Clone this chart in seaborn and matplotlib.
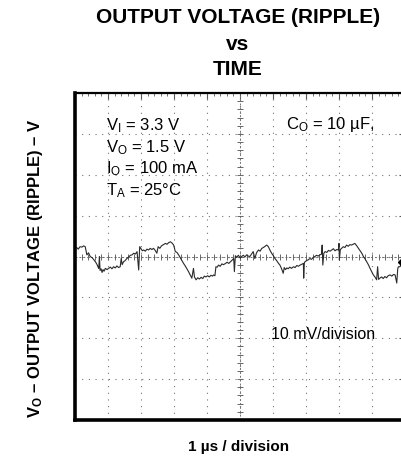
import numpy as np
import pandas as pd
import matplotlib
matplotlib.use("Agg")
import matplotlib.pyplot as plt
import seaborn as sb

# --- scope trace (time in us, ripple in mV) ---
time_us = [
    0.00, 0.05, 0.10, 0.15, 0.21, 0.26, 0.31, 0.36, 0.41, 0.46, 0.52, 0.57,
    0.62, 0.67, 0.70, 0.72, 0.74, 0.76, 0.79, 0.82, 0.85, 0.88, 0.92, 0.97,
    1.02, 1.07, 1.12, 1.17, 1.22, 1.27, 1.32, 1.37, 1.40, 1.43, 1.47, 1.52,
    1.57, 1.63, 1.68, 1.73, 1.78, 1.83, 1.88, 1.93, 1.96, 2.00, 2.04, 2.08,
    2.13, 2.18, 2.23, 2.28, 2.33, 2.38, 2.43, 2.48, 2.52, 2.57, 2.62, 2.68,
    2.74, 2.79, 2.84, 2.89, 2.94, 2.99, 3.04, 3.09, 3.14, 3.19, 3.24, 3.29,
    3.34, 3.39, 3.44, 3.49, 3.54, 3.59, 3.62, 3.67, 3.72, 3.77, 3.82, 3.87,
    3.92, 3.97, 4.02, 4.07, 4.12, 4.17, 4.20, 4.24, 4.27, 4.31, 4.35, 4.40,
    4.45, 4.50, 4.56, 4.61, 4.66, 4.71, 4.76, 4.81, 4.83, 4.86, 4.90, 4.95,
    5.01, 5.05, 5.10, 5.15, 5.20, 5.25, 5.30, 5.35, 5.40, 5.45, 5.50, 5.56,
    5.61, 5.66, 5.71, 5.76, 5.81, 5.86, 5.91, 5.96, 6.01, 6.06, 6.11, 6.16,
    6.21, 6.26, 6.31, 6.34, 6.38, 6.42, 6.46, 6.51, 6.56, 6.62, 6.67, 6.72,
    6.77, 6.82, 6.87, 6.92, 6.93, 6.95, 6.97, 7.02, 7.07, 7.12, 7.17, 7.22,
    7.27, 7.32, 7.37, 7.42, 7.47, 7.49, 7.51, 7.54, 7.58, 7.63, 7.68, 7.73,
    7.78, 7.83, 7.88, 7.93, 7.98, 8.00, 8.01, 8.04, 8.08, 8.13, 8.18, 8.23,
    8.28, 8.33, 8.38, 8.43, 8.48, 8.53, 8.59, 8.64, 8.69, 8.74, 8.79, 8.84,
    8.89, 8.94, 8.99, 9.04, 9.09, 9.14, 9.17, 9.20, 9.24, 9.29, 9.34, 9.39,
    9.44, 9.49, 9.55, 9.60, 9.65, 9.70, 9.75, 9.78, 9.80, 9.85, 9.90,
]
ripple_mv = [
    1.9, 2.2, 1.8, 2.4, 2.3, 2.6, 2.4, 0.4, 0.9, 0.0, -0.3, -0.8,
    -1.3, -2.0, -2.6, -2.9, 0.0, -3.4, -3.0, -3.9, -3.2, -3.6, -2.9, -3.2,
    -2.9, -2.6, -3.0, -2.5, -2.8, -2.3, -2.7, -2.5, -0.5, -2.0, -1.3, -1.0,
    -0.5, -0.1, 0.3, 0.4, 0.8, 0.6, 1.2, -3.3, 2.4, 1.9, 1.4, 1.6,
    1.3, 1.8, 1.6, 2.0, 1.7, 2.0, 1.5, 0.8, 2.4, 2.0, 2.6, 2.9,
    3.2, 3.0, 3.4, 3.6, 3.3, 2.8, 1.2, 1.0, 0.4, -0.3, -1.0, -1.7,
    -2.3, -3.0, -3.7, -4.5, -5.3, -2.9, -5.0, -5.7, -5.2, -5.5, -5.1, -5.4,
    -4.8, -5.0, -4.7, -5.0, -4.6, -4.8, -4.5, -4.7, -2.5, -2.6, -2.1, -2.4,
    -1.8, -2.0, -1.7, -1.4, -1.7, -1.3, -0.9, -0.5, -3.7, 0.2, -0.2, 0.3,
    -0.4, 0.0, 0.3, -0.1, 0.4, 0.1, 0.0, 0.6, 1.2, -0.5, 0.9, 1.6,
    1.3, 2.0, 2.2, 2.5, 2.8, 2.4, 1.5, 0.8, 0.2, -0.5, -1.0, -1.6,
    -2.1, -3.0, -4.1, -2.7, -3.2, -2.8, -3.0, -2.6, -2.9, -2.5, -2.7, -2.2,
    -2.4, -2.1, -1.9, -1.7, -5.3, -1.5, -1.3, -1.0, -0.8, -0.5, -0.7, -0.2,
    0.0, 0.3, 0.1, 0.4, 0.6, 2.8, -2.1, 0.8, 1.2, 1.0, 1.5, 1.3,
    1.6, 1.9, 1.4, 1.7, 1.6, 3.2, -0.9, 1.7, 2.0, 2.4, 2.2, 2.8,
    2.5, 2.9, 2.8, 3.0, 3.2, 2.7, 2.0, 1.4, 0.8, 0.0, -0.6, -1.3,
    -2.0, -2.9, -3.7, -4.5, -5.0, -5.7, -2.5, -5.6, -5.3, -5.0, -5.4, -4.9,
    -5.2, -4.7, -4.5, -4.8, -4.4, -4.5, -6.5, -3.0, -2.5, -2.5, -1.6,
]

# trigger level marker on the right edge
trigger_t = [9.95]
trigger_mv = [-1.3]

# scope screen: 10 x 8 divisions, 1 us/div and 10 mV/div
x_divs = np.arange(0, 11, 1)
y_divs = np.arange(-40, 41, 10)

conditions = [
    r"V$_\mathrm{I}$ = 3.3 V",
    r"V$_\mathrm{O}$ = 1.5 V",
    r"I$_\mathrm{O}$ = 100 mA",
    r"T$_\mathrm{A}$ = 25°C",
]
title_lines = ["OUTPUT VOLTAGE (RIPPLE)", "vs", "TIME"]

sb.set_style("white")
plt.rcParams["font.family"] = ["Liberation Sans", "DejaVu Sans"]
plt.rcParams["text.color"] = "black"
plt.rcParams["mathtext.fontset"] = "custom"
plt.rcParams["mathtext.rm"] = "Liberation Sans"
plt.rcParams["mathtext.bf"] = "Liberation Sans:bold"
plt.rcParams["mathtext.it"] = "Liberation Sans:italic"

df = pd.DataFrame({"Time": time_us, "Ripple": ripple_mv})

fig = plt.figure(figsize=(4.02, 4.59), dpi=100)
ax = fig.add_axes([75 / 402, 39 / 459, 330 / 402, 327 / 459])

# graticule
ax.set_xlim(x_divs[0], x_divs[-1])
ax.set_ylim(y_divs[0], y_divs[-1])
ax.set_xticks(x_divs)
ax.set_yticks(y_divs)
ax.set_xticks(np.arange(0, 10.01, 0.2), minor=True)
ax.set_yticks(np.arange(-40, 40.01, 2), minor=True)
ax.grid(True, which="major", linestyle=(0, (1, 5)), color="0.45", linewidth=0.8)
ax.tick_params(which="both", direction="in", top=True, right=True,
               labelbottom=False, labelleft=False, color="0.35")
ax.tick_params(which="major", length=4, width=0.8)
ax.tick_params(which="minor", length=2.5, width=0.6)

# center cross-hair with sub-division ticks
x_mid = x_divs[len(x_divs) // 2]
ax.axhline(0, color="0.45", linestyle=(0, (2, 2)), linewidth=0.7)
ax.axvline(x_mid, color="0.45", linestyle=(0, (2, 2)), linewidth=0.7)
ax.plot(np.arange(0, 10.01, 0.2), np.zeros(51), linestyle="none",
        marker="|", markersize=5, color="0.4", markeredgewidth=0.7)
ax.plot(np.full(41, x_mid), np.arange(-40, 40.01, 2), linestyle="none",
        marker="_", markersize=5, color="0.4", markeredgewidth=0.7)

sb.lineplot(data=df, x="Time", y="Ripple", ax=ax, color="#2a2a2a",
            linewidth=0.8, sort=False, estimator=None)
ax.plot(trigger_t, trigger_mv, marker="D", markersize=5, color="black",
        linestyle="none", clip_on=False)

for side in ["left", "bottom"]:
    ax.spines[side].set_linewidth(2.6)
ax.spines["top"].set_linewidth(1.6)
ax.spines["right"].set_linewidth(1.6)
for side in ax.spines:
    ax.spines[side].set_color("black")

ax.set_xlabel("")
ax.set_ylabel("")

# annotations
for i, line in enumerate(conditions):
    ax.text(0.093, 0.885 - i * 0.066, line, transform=ax.transAxes,
            fontsize=12, va="baseline", ha="left")
ax.text(0.64, 0.89, r"C$_\mathrm{O}$ = 10 µF,", transform=ax.transAxes,
        fontsize=12, va="baseline", ha="left")
ax.text(0.593, 0.26, "10 mV/division", transform=ax.transAxes,
        fontsize=11.5, va="center", ha="left")

# three-line title, baselines
for line, base_px in zip(title_lines, [23, 50, 75]):
    fig.text(238 / 402, 1 - base_px / 459, line, fontsize=15,
             fontweight="bold", ha="center", va="baseline")

fig.text(239 / 402, 1 - 447 / 459, "1 µs / division", fontsize=11,
         fontweight="bold", ha="center", va="center")
fig.text(36 / 402, 1 - 268 / 459, r"V$_\mathbf{O}$ – OUTPUT VOLTAGE (RIPPLE) – V",
         fontsize=12, fontweight="bold", rotation=90, ha="center", va="center")

fig.savefig("out.png", dpi=100)
